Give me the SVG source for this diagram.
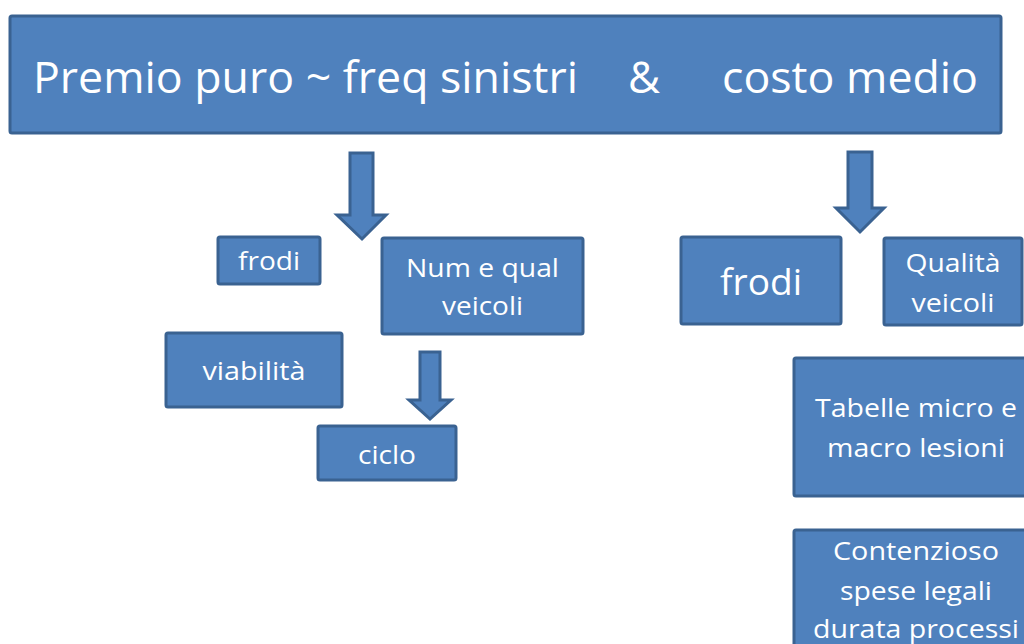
<svg xmlns="http://www.w3.org/2000/svg" width="1024" height="644" viewBox="0 0 1024 644">
<style>
.box{fill:#4F81BD;stroke:#3A6291;stroke-width:3}
.arr{fill:#4F81BD;stroke:#3A6291;stroke-width:3;stroke-linejoin:miter}
text{font-family:"Open Sans","Liberation Sans",sans-serif;fill:#fff;text-anchor:middle}
.t24{font-size:25px}
</style>
<rect width="1024" height="644" fill="#fff"/>
<g id="main">
<rect class="box" x="10" y="16" width="991" height="117" rx="2"/>
<text x="305.5" y="93" font-size="44" textLength="545" lengthAdjust="spacingAndGlyphs">Premio puro ~ freq sinistri</text>
<text x="644" y="93" font-size="44">&amp;</text>
<text x="850" y="93" font-size="44" textLength="256" lengthAdjust="spacingAndGlyphs">costo medio</text>
</g>
<g id="connectors">
<path class="arr" d="M350,153 H373 V215 H386 L362,239 L337,215 H350 Z"/>
<path class="arr" d="M420,352 H440 V400 H451 L430,419 L409,400 H420 Z"/>
<path class="arr" d="M848,152 H872 V208 H884 L860,232 L836,208 H848 Z"/>
</g>
<g id="frodi-left">
<rect class="box" x="218" y="237" width="102" height="47" rx="2"/>
<text class="t24" x="269" y="270" textLength="62" lengthAdjust="spacingAndGlyphs">frodi</text>
</g>
<g id="num-qual">
<rect class="box" x="382" y="238" width="201" height="96" rx="2"/>
<text class="t24" x="482.5" y="277" textLength="153" lengthAdjust="spacingAndGlyphs">Num e qual</text>
<text class="t24" x="482.5" y="315" textLength="81" lengthAdjust="spacingAndGlyphs">veicoli</text>
</g>
<g id="viabilita">
<rect class="box" x="166" y="333" width="176" height="74" rx="2"/>
<text class="t24" x="254" y="380" textLength="103" lengthAdjust="spacingAndGlyphs">viabilità</text>
</g>
<g id="ciclo">
<rect class="box" x="318" y="426" width="138" height="54" rx="2"/>
<text class="t24" x="387" y="464" textLength="58" lengthAdjust="spacingAndGlyphs">ciclo</text>
</g>
<g id="frodi-right">
<rect class="box" x="681" y="237" width="160" height="87" rx="2"/>
<text x="761" y="295" font-size="36" textLength="82" lengthAdjust="spacingAndGlyphs">frodi</text>
</g>
<g id="qualita">
<rect class="box" x="884" y="238" width="138" height="87" rx="2"/>
<text class="t24" x="953" y="272" textLength="95" lengthAdjust="spacingAndGlyphs">Qualità</text>
<text class="t24" x="953" y="312" textLength="83" lengthAdjust="spacingAndGlyphs">veicoli</text>
</g>
<g id="tabelle">
<rect class="box" x="794" y="358" width="240" height="138" rx="2"/>
<text class="t24" x="916" y="417" textLength="202" lengthAdjust="spacingAndGlyphs">Tabelle micro e</text>
<text class="t24" x="916" y="457" textLength="178" lengthAdjust="spacingAndGlyphs">macro lesioni</text>
</g>
<g id="contenzioso">
<rect class="box" x="794" y="530" width="240" height="130" rx="2"/>
<text class="t24" x="916" y="560" textLength="166" lengthAdjust="spacingAndGlyphs">Contenzioso</text>
<text class="t24" x="916" y="600" textLength="152" lengthAdjust="spacingAndGlyphs">spese legali</text>
<text class="t24" x="916" y="638" textLength="206" lengthAdjust="spacingAndGlyphs">durata processi</text>
</g>
</svg>
